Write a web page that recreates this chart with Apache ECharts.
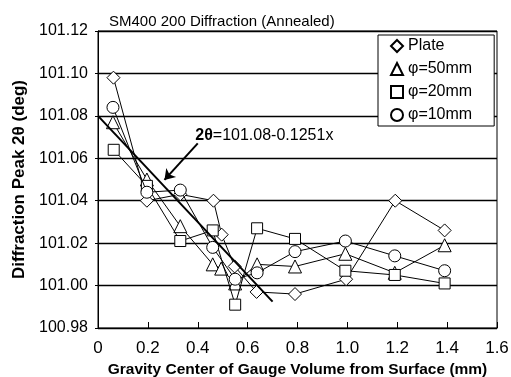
<!DOCTYPE html>
<html><head><meta charset="utf-8">
<script src="https://cdn.jsdelivr.net/npm/echarts@6/dist/echarts.min.js"></script>
<style>html,body{margin:0;padding:0;background:#fff}#c{width:511px;height:377px}</style>
</head><body><div id="c"></div>
<script>
var xPlate = [0.062, 0.196, 0.33, 0.463, 0.496, 0.548, 0.636, 0.79, 0.995, 1.192, 1.39];
var yPlate = [101.098, 101.040, 101.043, 101.040, 101.024, 101.009, 100.997, 100.996, 101.003, 101.040, 101.026];
var x50 = [0.06, 0.196, 0.33, 0.46, 0.494, 0.55, 0.638, 0.79, 0.992, 1.19, 1.39];
var y50 = [101.077, 101.050, 101.028, 101.010, 101.008, 101.001, 101.010, 101.009, 101.015, 101.006, 101.019];
var x20 = [0.063, 0.196, 0.33, 0.46, 0.55, 0.638, 0.79, 0.992, 1.19, 1.39];
var y20 = [101.064, 101.047, 101.021, 101.026, 100.991, 101.027, 101.022, 101.007, 101.005, 101.001];
var x10 = [0.06, 0.196, 0.33, 0.46, 0.55, 0.638, 0.79, 0.992, 1.19, 1.39];
var y10 = [101.084, 101.044, 101.045, 101.018, 101.003, 101.006, 101.016, 101.021, 101.014, 101.007];
var seriesNames = ['Plate', '\u03c6=50mm', '\u03c6=20mm', '\u03c6=10mm'];
var seriesSymbols = ['diamond', 'triangle', 'rect', 'circle'];
var fitIntercept = 101.08, fitSlope = -0.1251, fitXEnd = 0.70;
var arrowFrom = [0.40, 101.067], arrowTo = [0.2665, 101.0498];
var fitLabelPos = [0.667, 101.0705];

function pairs(xs, ys){ return xs.map(function(x,i){return [x, ys[i]];}); }
var xsAll = [xPlate, x50, x20, x10], ysAll = [yPlate, y50, y20, y10];
var sizes = [13, 13, 11, 12];
var FONT = '"Liberation Sans", Arial, sans-serif';

var series = seriesNames.map(function(n, k){
  return {
    name: n, type: 'line', data: pairs(xsAll[k], ysAll[k]),
    symbol: seriesSymbols[k], symbolSize: sizes[k], showAllSymbol: true,
    lineStyle: {color: '#000', width: 1},
    itemStyle: {color: '#fff', borderColor: '#000', borderWidth: 1},
    emphasis: {disabled: true}, animation: false, z: 3 + k
  };
});
series.push({
  name: 'fit', type: 'line', symbol: 'none',
  data: [[0, fitIntercept], [fitXEnd, fitIntercept + fitSlope * fitXEnd]],
  lineStyle: {color: '#000', width: 2}, z: 10, animation: false
});
series.push({
  name: 'arrow', type: 'lines', coordinateSystem: 'cartesian2d',
  symbol: ['none', 'arrow'], symbolSize: 10,
  lineStyle: {color: '#000', width: 2, opacity: 1},
  data: [{coords: [arrowFrom, arrowTo]}], z: 11, animation: false
});
series.push({
  name: 'fitlabel', type: 'scatter', symbolSize: 0, data: [fitLabelPos],
  itemStyle: {opacity: 1},
  label: {show: true, position: 'inside', formatter: '{b|2\u03b8}=101.08-0.1251x',
    color: '#000', opacity: 1, fontFamily: FONT, fontSize: 16,
    rich: {b: {fontWeight: 'bold', fontSize: 16, fontFamily: FONT, color: '#000'}}},
  emphasis: {disabled: true},
  z: 12, animation: false
});

var chart = echarts.init(document.getElementById('c'), null, {renderer: 'canvas'});
chart.setOption({
  backgroundColor: '#fff',
  animation: false,
  title: {text: 'SM400 200 Diffraction (Annealed)', left: 104, top: 9,
    textStyle: {fontFamily: FONT, fontSize: 15, fontWeight: 'normal', color: '#000'}},
  legend: {
    orient: 'vertical', left: 378, top: 35,
    backgroundColor: '#fff', borderColor: '#000', borderWidth: 1,
    padding: [3, 22, 3, 12], itemGap: 7, itemWidth: 12, itemHeight: 12,
    textStyle: {fontFamily: FONT, fontSize: 16, color: '#000', lineHeight: 15},
    data: seriesNames.map(function(n, k){ return {name: n, icon: seriesSymbols[k]}; }),
    selectedMode: false
  },
  grid: {left: 98, right: 14, top: 31, bottom: 49, show: true, borderColor: '#000', borderWidth: 1,
    containLabel: false, outerBoundsMode: 'none'},
  xAxis: {
    type: 'value', min: 0, max: 1.6, interval: 0.2,
    name: 'Gravity Center of Gauge Volume from Surface (mm)', nameLocation: 'middle', nameGap: 32,
    nameTextStyle: {fontFamily: FONT, fontSize: 15.5, fontWeight: 'bold', color: '#000'},
    axisLine: {show: true, lineStyle: {color: '#000', width: 1}},
    axisTick: {show: true, inside: true, length: 6, lineStyle: {color: '#000'}},
    axisLabel: {fontFamily: FONT, fontSize: 17, color: '#000', margin: 12,
      formatter: function(v){ return v === 0 ? '0' : v.toFixed(1); }},
    splitLine: {show: false}
  },
  yAxis: {
    type: 'value', min: 100.98, max: 101.12, interval: 0.02,
    name: 'Diffraction Peak 2\u03b8 (deg)', nameLocation: 'middle', nameGap: 67,
    nameTextStyle: {fontFamily: FONT, fontSize: 17, fontWeight: 'bold', color: '#000'},
    axisLine: {show: true, lineStyle: {color: '#000', width: 1}},
    axisTick: {show: true, length: 3, lineStyle: {color: '#000'}},
    axisLabel: {fontFamily: FONT, fontSize: 16, color: '#000', margin: 10,
      formatter: function(v){ return v.toFixed(2); }},
    splitLine: {show: true, lineStyle: {color: '#000', width: 1.3}}
  },
  series: series
});
</script></body></html>
